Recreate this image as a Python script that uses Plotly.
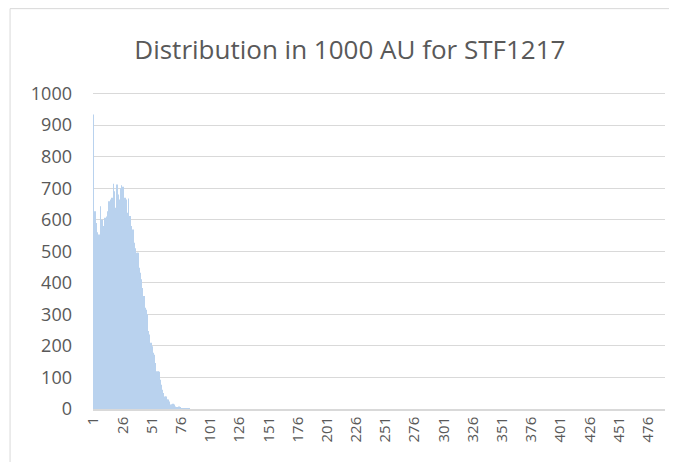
import plotly.graph_objects as go

# bar heights for categories 1..85; the rest are zero
head_values = [
    934, 627, 590, 560, 553, 553, 643, 600, 575, 580,
    606, 610, 627, 659, 633, 664, 670, 714, 690, 638,
    712, 680, 664, 700, 709, 705, 643, 670, 664, 622,
    667, 612, 580, 538, 569, 527, 510, 495, 495, 448,
    432, 411, 384, 358, 321, 315, 300, 247, 236, 210,
    199, 178, 172, 146, 120, 120, 118, 93, 77, 61,
    51, 40, 40, 30, 30, 24, 14, 14, 17, 14,
    8, 6, 5, 8, 6, 3, 3, 1, 2, 1,
    1, 0, 1, 0, 0,
]
n_categories = 490
categories = list(range(1, n_categories + 1))
values = head_values + [0] * (n_categories - len(head_values))

tick_vals = list(range(1, 477, 25))
tick_text = [str(v) for v in tick_vals]
y_ticks = list(range(0, 1001, 100))

font_color = "#595959"
font_family = "Open Sans, Liberation Sans, sans-serif"

fig = go.Figure(go.Bar(
    x=categories,
    y=values,
    marker_color="#B9D2EE",
    marker_line_width=0,
))

# the page body adds an 8px offset, margins are set with that in mind
fig.update_layout(
    width=677,
    height=462,
    margin=dict(l=85, r=20, t=84, b=61, autoexpand=False),
    paper_bgcolor="white",
    plot_bgcolor="white",
    bargap=0.35,
    showlegend=False,
    title=dict(
        text="Distribution in 1000 AU for STF1217",
        x=0.505, xanchor="center",
        y=0.91, yanchor="middle",
        automargin=False,
        font=dict(family=font_family, size=26, color=font_color),
    ),
    font=dict(family=font_family, color=font_color),
    xaxis=dict(
        range=[0.5, n_categories + 0.5],
        tickmode="array",
        tickvals=tick_vals,
        ticktext=tick_text,
        tickangle=-90,
        tickfont=dict(size=15, color=font_color),
        showgrid=False,
        showline=True,
        linecolor="#D9D9D9",
        linewidth=1.5,
        ticks="",
        zeroline=False,
        automargin=False,
    ),
    yaxis=dict(
        range=[0, 1005],
        tickmode="array",
        tickvals=y_ticks,
        tickfont=dict(size=18, color=font_color),
        showgrid=True,
        gridcolor="#D9D9D9",
        gridwidth=1,
        showline=False,
        zeroline=False,
        ticks="",
        ticklabelstandoff=20,
        automargin=False,
    ),
    shapes=[dict(
        type="rect", xref="paper", yref="paper",
        x0=-0.145, x1=1.06, y0=-0.3, y1=1.263,
        line=dict(color="#D9D9D9", width=1),
        fillcolor="rgba(0,0,0,0)",
        layer="below",
    )],
)

fig.write_html("out.html")
